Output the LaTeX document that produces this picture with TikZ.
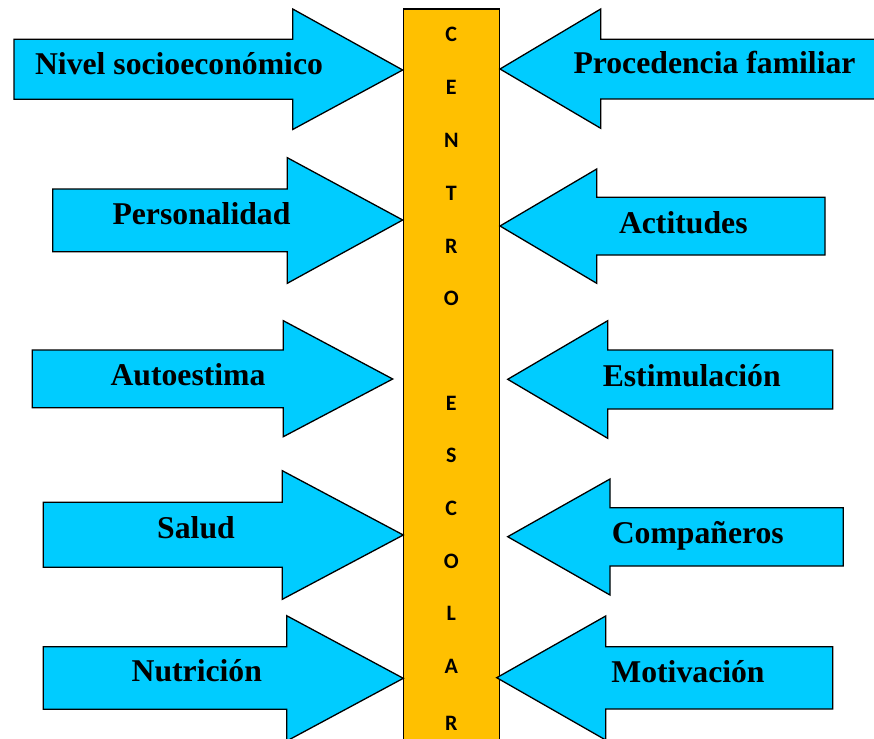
\documentclass[tikz,border=0pt]{standalone}
\usepackage{fontspec}
\setmainfont{Liberation Serif}
\newfontfamily\barfont{Carlito}
\definecolor{arrowcyan}{HTML}{00CCFF}
\definecolor{barorange}{HTML}{FFC000}
\newcommand\myRArrow[8]{%
  \draw[arrowshape] (#1,#2) -- (#4,#2) -- (#4,#5) -- (#7,#8) -- (#4,#6) -- (#4,#3) -- (#1,#3) -- cycle;}
\newcommand\myLArrow[8]{%
  \draw[arrowshape] (#1,#2) -- (#4,#2) -- (#4,#5) -- (#7,#8) -- (#4,#6) -- (#4,#3) -- (#1,#3) -- cycle;}
\tikzset{
  arrowshape/.style={fill=arrowcyan, draw=black, line width=1.3pt, line join=miter},
  lbl/.style={anchor=base, inner sep=0pt, font=\fontsize{31.7}{36}\selectfont\bfseries},
  barletter/.style={inner sep=0pt, font=\barfont\bfseries\fontsize{22}{26}\selectfont},
}
\begin{document}
\begin{tikzpicture}[x=1pt,y=-1pt]
\useasboundingbox (0,0) rectangle (874,738);
% central bar
\draw[fill=barorange, draw=black, line width=1.3pt] (403.3,9) rectangle (499.3,760);
\foreach \ch/\yy [count=\i] in {C/34,E/87,N/140,T/193,R/246,O/298,E/403,S/455,C/508,O/561,L/613,A/666,R/723}{
  \node[barletter] (letter\i) at (451.3,\yy) {\ch};
}
% left arrows
\myRArrow{14}{39.3}{99.3}{292.7}{9}{129.5}{402.7}{70}
\myRArrow{52.7}{189}{251.7}{287.3}{157.7}{283.3}{402.7}{220}
\myRArrow{32.3}{350}{407.7}{283.3}{320.7}{436.7}{392.7}{379}
\myRArrow{43.3}{502.3}{567.3}{282.3}{470.7}{599.3}{403.3}{535}
\myRArrow{43.3}{646.7}{709.3}{286.7}{615.7}{741}{403.3}{678.3}
% right arrows
\myLArrow{880}{39.3}{99}{600.7}{9}{128.3}{500}{69}
\myLArrow{825}{197.3}{255}{596.7}{169}{283.3}{500}{226}
\myLArrow{832.7}{350}{409}{607.7}{320.7}{438.3}{507.7}{379.3}
\myLArrow{843.3}{507.7}{566}{610}{479}{595}{507.7}{536.7}
\myLArrow{832.7}{646.7}{709}{605.7}{616}{740}{496.7}{677.7}
% labels
\node[lbl] (nivel) at (179,75) {Nivel socioeconómico};
\node[lbl] (pers) at (201.5,224) {Personalidad};
\node[lbl] (auto) at (188,385) {Autoestima};
\node[lbl] (salud) at (196,538) {Salud};
\node[lbl] (nutr) at (196.8,681.7) {Nutrición};
\node[lbl] (proc) at (714.5,74) {Procedencia familiar};
\node[lbl] (acti) at (683.3,233) {Actitudes};
\node[lbl] (esti) at (691.7,386) {Estimulación};
\node[lbl] (comp) at (697.8,543) {Compañeros};
\node[lbl] (moti) at (688,682) {Motivación};
\end{tikzpicture}
\end{document}
